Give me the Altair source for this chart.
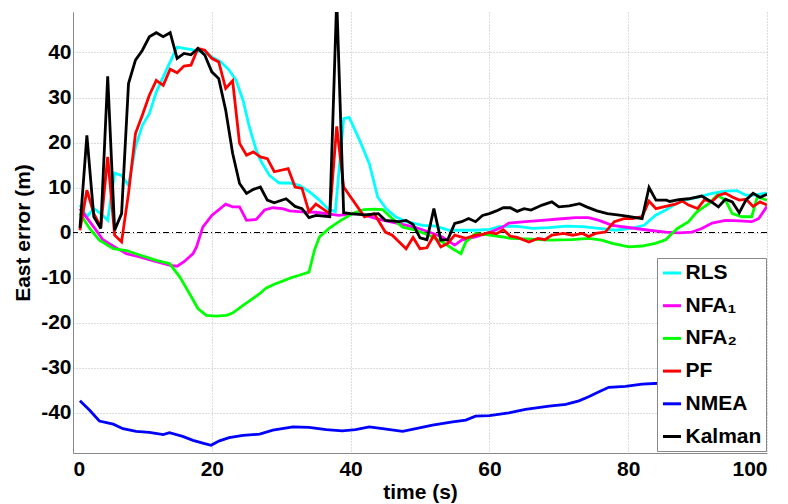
import altair as alt
import pandas as pd

# ---- data ----
names = ["RLS", "NFA₁", "NFA₂", "PF", "NMEA", "Kalman"]
colors = ["#00FFFF", "#FF00FF", "#00FF00", "#FF0000", "#0000FF", "#000000"]

rls_t = [1, 2, 3, 4, 5, 6, 7, 8, 9, 10, 11, 12, 13, 14, 15, 16, 17, 18, 19, 20, 21.3, 22.5, 23.5, 24.5, 25.4,
         26.4, 27, 28.3, 29.7, 31.2, 32.6, 34.1, 35.5, 36.7, 37.8, 39, 39.8, 41.3, 42.7, 43.9, 45.1, 46.5, 48,
         50.4, 52.3, 54.2, 56, 58, 60, 61.4, 63.8, 66.2, 68.6, 71, 73.4, 75.8, 78.2, 80.6, 82.3, 83.9, 85.4,
         86.8, 88.2, 90.2, 92.1, 94, 95.7, 96.9, 98.3, 100]
rls_v = [6.1, 3.5, 5.3, 4.2, 2.7, 13.2, 12.7, 10.5, 19.0, 23.8, 26.4, 31.2, 34.6, 37.9, 41.2, 40.9, 40.7, 40.2,
         40.1, 39.0, 37.9, 36.1, 33.8, 29.4, 23.5, 18.3, 16.1, 12.7, 11.0, 11.0, 10.5, 9.0, 7.2, 5.3, 4.6, 25.3,
         25.6, 20.5, 15.3, 7.9, 5.3, 3.5, 2.4, 1.6, 1.4, 0.5, 0.5, 0.5, 0.7, 1.3, 1.4, 0.9, 1.1, 1.4, 1.3, 0.9,
         0.5, 1.0, 1.6, 3.8, 5.0, 6.3, 7.2, 7.9, 8.7, 9.2, 9.3, 8.3, 8.3, 8.8]

nfa1_t = [1, 3, 4.3, 6, 7.7, 9.6, 12, 14, 15, 16, 17.3, 17.8, 18.7, 20, 22, 23, 24, 25, 26.4, 27.6, 28.8, 30.2,
          31.2, 33, 35, 37, 38.3, 40, 41.3, 43.7, 45.6, 47.5, 49.4, 51.3, 53.2, 55, 56, 58, 60, 61.9, 62.8,
          65.2, 67.6, 70, 72.4, 74.3, 75.8, 77.7, 80.6, 83, 85.4, 87.3, 89.2, 90.6, 92.1, 94, 96, 97.8, 98.8, 100]
nfa1_v = [5.3, 1.2, -1.6, -3.2, -4.7, -5.4, -6.5, -7.3, -7.5, -6.5, -4.7, -3.2, 1.2, 3.8, 6.3, 5.7, 5.7, 2.7,
          2.9, 5.0, 5.5, 5.3, 4.8, 4.6, 4.5, 4.1, 3.8, 4.1, 4.2, 3.1, 2.4, 1.8, 1.1, 0.1, -1.0, -2.8, -1.7,
          -1.0, 0.0, 1.2, 2.1, 2.4, 2.7, 3.0, 3.3, 3.3, 2.7, 1.6, 1.0, 0.5, 0.1, -0.1, 0.1, 0.9, 2.1, 2.7,
          2.6, 2.4, 3.1, 5.8]

nfa2_t = [1, 2.4, 3.8, 5.8, 7.7, 9.6, 12, 13.9, 15.4, 16.8, 18, 19.2, 20.6, 22.1, 23, 24.5, 25.9, 26.9, 27.8,
          29, 30.2, 31.7, 32.6, 34, 34.8, 35.5, 36.9, 38.6, 40.3, 41.9, 43.4, 44.6, 46, 47.5, 49.4, 51.3,
          53.2, 54.7, 55.9, 56.6, 58, 60, 62, 63, 65.2, 68.6, 71.9, 74.3, 76.2, 77.7, 80.1, 82, 83.9, 85.4,
          86.3, 87.1, 88.7, 89.9, 91.6, 92.8, 94, 95, 96.4, 97.8, 98.6, 100]
nfa2_v = [4.2, 0.9, -1.7, -3.6, -4.0, -5.0, -6.2, -6.9, -9.9, -13.6, -16.9, -18.4, -18.6, -18.4, -17.9, -16.2,
          -14.7, -13.6, -12.4, -11.5, -10.8, -9.9, -9.5, -8.8, -3.9, -1.0, 0.9, 2.7, 4.2, 5.1, 5.2, 5.1, 3.1,
          1.2, 0.5, -0.6, -2.1, -3.6, -4.7, -2.1, -0.2, -0.6, -1.0, -1.3, -1.4, -1.7, -1.6, -1.3, -1.7, -2.4,
          -3.2, -3.0, -2.4, -1.6, -0.2, 0.9, 2.4, 4.6, 6.4, 8.3, 7.2, 4.2, 3.5, 3.5, 7.9, 7.2]

pf_t = [1, 2, 3, 4, 5, 6, 7, 8, 9, 10, 11, 12, 13, 14, 15, 16, 17, 18, 19, 20, 21, 22, 23, 24, 25, 26, 27, 28,
        29, 31, 32, 33, 34, 35, 37, 38, 39, 40, 42, 43.4, 45, 46, 48, 49, 50, 51, 52, 53, 54, 55, 56.6, 58, 59,
        60, 61, 62, 63, 64, 65.7, 67, 68, 69, 70.7, 72, 73.4, 74.3, 75.3, 76.7, 78, 79.4, 80.6, 82, 83, 84,
        85.4, 86.8, 87.8, 88.7, 90, 91, 92, 93, 94, 95, 96, 97, 98, 99, 100]
pf_v = [0.5, 9.4, 4.2, 1.2, 16.8, -0.6, -2.1, 8.7, 22.0, 26.1, 30.5, 33.8, 32.7, 36.3, 35.5, 37.0, 37.2, 40.9,
        40.5, 38.7, 37.9, 32.0, 33.7, 19.8, 17.2, 17.9, 16.8, 16.4, 13.5, 14.2, 10.1, 9.8, 4.6, 6.3, 4.2, 23.6,
        10.1, 7.9, 3.5, 4.2, 0.1, -0.6, -3.6, -1.1, -3.6, -3.4, -0.6, -3.2, -2.4, -0.6, -1.3, -0.6, -0.4, 0.0,
        -0.3, 0.6, -0.8, -1.1, -2.1, -1.3, -1.6, -0.6, -0.2, -0.6, -0.2, -0.9, -0.2, 0.1, 2.4, 3.1, 3.1, 3.5,
        7.0, 5.3, 5.8, 6.3, 7.0, 6.1, 5.3, 7.3, 6.8, 8.3, 8.7, 7.9, 7.2, 7.4, 5.8, 6.8, 6.1]

nmea_t = [1, 2.4, 3.8, 5.8, 7.2, 9.1, 11, 13, 13.9, 15.8, 17.3, 18.7, 19.9, 21.1, 22.5, 24.5, 26.9, 28.8, 31.7,
          34, 36.5, 38.8, 40.7, 42.7, 44.6, 47.5, 49.4, 51.8, 54.7, 56.6, 58, 60, 62.8, 65.2, 68.6, 71, 72.9,
          74.3, 75.8, 77.2, 79.6, 82, 84.4, 88, 92, 96, 100]
nmea_v = [-37.4, -39.5, -41.9, -42.6, -43.6, -44.2, -44.4, -44.9, -44.5, -45.3, -46.2, -46.8, -47.3, -46.3,
          -45.6, -45.1, -44.8, -43.9, -43.2, -43.3, -43.8, -44.1, -43.8, -43.2, -43.6, -44.2, -43.6, -42.8,
          -42.1, -41.7, -40.8, -40.7, -40.1, -39.3, -38.6, -38.2, -37.4, -36.5, -35.4, -34.4, -34.2, -33.7,
          -33.5, -33.0, -32.2, -31.2, -29.9]

kal_t = [1, 2, 3, 4, 5, 6, 7, 8, 9, 10, 11, 12, 13, 14, 15, 16, 17, 18, 19, 20, 21, 22, 23, 24, 25, 26, 27, 28,
         29, 30.7, 32, 33, 34, 35, 37, 38, 39, 40, 42, 44, 45, 47, 48, 49, 50, 51, 52, 53, 54, 55, 56, 57, 58,
         59, 60, 61, 62, 63, 64, 65, 66, 67.6, 69, 70, 71.5, 73, 74, 75.5, 77, 79, 80, 82, 83, 84, 85.5, 86,
         87.3, 88.7, 90.6, 92, 93, 94, 95, 96, 97, 98, 99, 100]
kal_v = [1.0, 21.6, 3.5, 0.9, 34.7, 0.5, 4.2, 33.1, 38.3, 40.5, 43.5, 44.4, 43.5, 44.4, 38.7, 39.8, 39.5, 40.9,
         39.4, 35.7, 34.2, 27.2, 17.6, 10.9, 8.7, 9.6, 10.1, 7.2, 6.6, 7.5, 5.8, 5.3, 3.3, 3.8, 3.5, 52.0, 4.4,
         4.2, 3.9, 4.2, 2.7, 2.4, 2.7, 1.8, -1.2, -1.6, 5.3, -1.7, -1.6, 2.0, 2.4, 3.1, 2.4, 3.8, 4.2, 4.8, 5.5,
         5.5, 4.7, 5.3, 5.0, 6.1, 6.8, 5.7, 5.9, 6.4, 5.7, 4.8, 4.2, 3.8, 3.6, 3.1, 10.0, 7.2, 7.2, 6.9, 7.3,
         7.5, 8.1, 6.8, 5.7, 7.4, 6.8, 4.4, 7.3, 8.7, 7.8, 8.5]

x_ticks = [0, 20, 40, 60, 80, 100]
y_ticks = [-40, -30, -20, -10, 0, 10, 20, 30, 40]

series = [(names[0], rls_t, rls_v), (names[1], nfa1_t, nfa1_v), (names[2], nfa2_t, nfa2_v),
          (names[3], pf_t, pf_v), (names[4], nmea_t, nmea_v), (names[5], kal_t, kal_v)]

rows = []
for name, ts, vs in series:
    for t, v in zip(ts, vs):
        rows.append({"series": name, "t": t, "v": v})
df = pd.DataFrame(rows)
zero_df = pd.DataFrame({"v": [0]})

FONT = "Liberation Sans"

x_enc = alt.X("t:Q", scale=alt.Scale(domain=[0, 100], nice=False),
              axis=alt.Axis(values=x_ticks, title="time (s)", titlePadding=2,
                            labelExpr="datum.value + ''"))
y_enc = alt.Y("v:Q", scale=alt.Scale(domain=[-49, 49], nice=False, zero=False),
              axis=alt.Axis(values=y_ticks, title="East error (m)", titlePadding=7,
                            labelExpr="datum.value + ''"))
color_enc = alt.Color(
    "series:N",
    scale=alt.Scale(domain=names, range=colors),
    legend=alt.Legend(
        orient="none", legendX=584, legendY=246, title=None,
        symbolType="stroke", symbolSize=324, symbolStrokeWidth=3,
        labelFont=FONT, labelFontSize=21, labelFontWeight="bold", labelColor="black",
        padding=4.5, rowPadding=10.7, labelOffset=3, offset=0,
        strokeColor="#888888", fillColor="white",
    ),
)

zero_line = alt.Chart(zero_df).mark_rule(color="black", strokeWidth=1, strokeDash=[6, 3, 1, 3]).encode(y=y_enc)

layers = [zero_line]
for name in names:
    layers.append(
        alt.Chart(df).transform_filter(alt.datum.series == name)
        .mark_line(strokeWidth=2.8, clip=True, strokeJoin="miter", strokeMiterLimit=3)
        .encode(x=x_enc, y=y_enc, color=color_enc, order="t:Q")
    )

chart = (
    alt.layer(*layers)
    .properties(width=694, height=441,
                autosize=alt.AutoSizeParams(type="none"),
                padding={"left": 65, "top": 4, "right": 13, "bottom": 51})
    .configure_view(stroke=None)
    .configure_axis(
        domainColor="#888888", domainWidth=1,
        grid=True, gridColor="#bbbbbb", gridDash=[1, 2], gridWidth=1,
        ticks=False, tickSize=0,
        labelFont=FONT, labelFontSize=21, labelFontWeight="bold", labelColor="black",
        labelPadding=5,
        titleFont=FONT, titleFontSize=21, titleFontWeight="bold", titleColor="black",
    )
    .configure_axisY(labelPadding=2)
)

chart.save("out.html", embed_options={"renderer": "svg", "actions": False})
